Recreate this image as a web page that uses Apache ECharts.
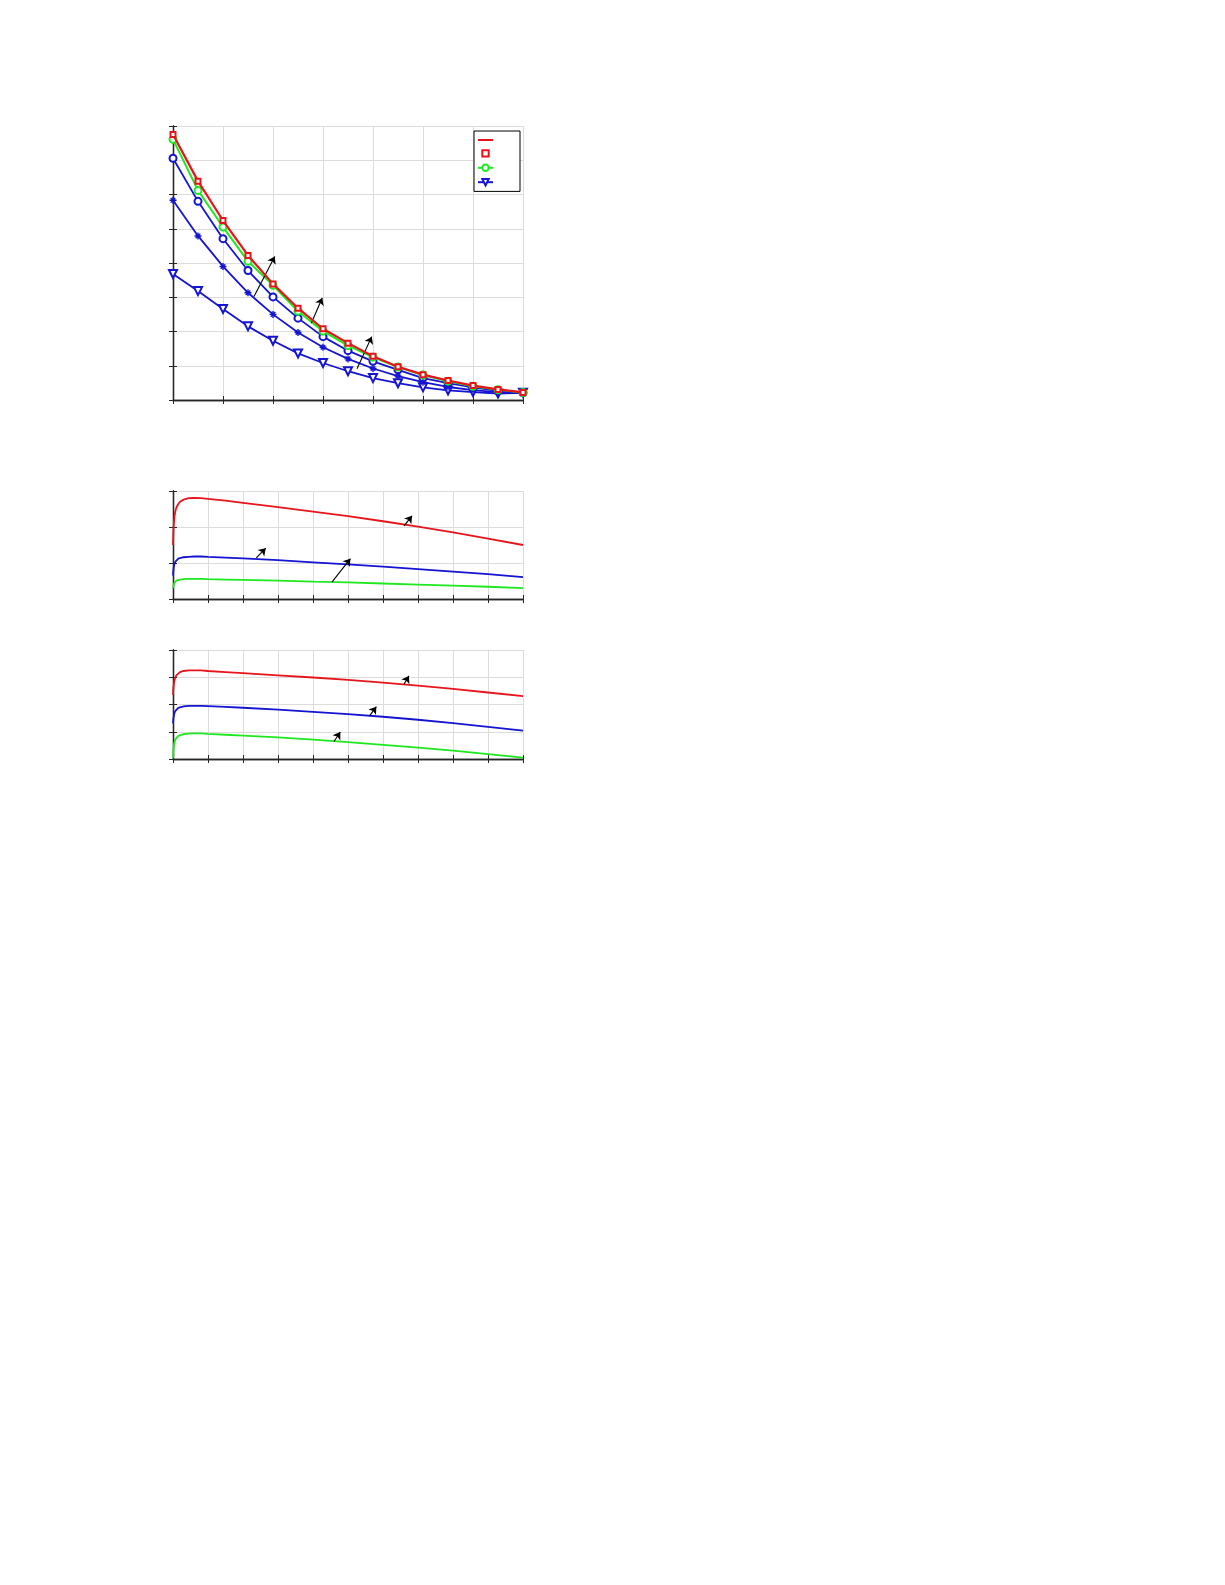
<!DOCTYPE html>
<html>
<head>
<meta charset="utf-8">
<script src="https://cdn.jsdelivr.net/npm/echarts@6/dist/echarts.min.js"></script>
<style>
html,body{margin:0;padding:0;background:#fff;}
#chart{width:1225px;height:1585px;}
</style>
</head>
<body>
<div id="chart"></div>
<script>
// ---------- Top panel data (15 sample points) ----------
var topX = [0,1,2,3,4,5,6,7,8,9,10,11,12,13,14];
var topRedLine    = [7.75,6.39,5.24,4.22,3.39,2.68,2.08,1.66,1.28,0.97,0.74,0.57,0.42,0.31,0.22];
var topRedSquares = [7.75,6.39,5.24,4.22,3.39,2.68,2.08,1.66,1.28,0.97,0.74,0.57,0.42,0.31,0.22];
var topGreen      = [7.61,6.12,5.05,4.05,3.35,2.59,2.01,1.59,1.25,0.96,0.73,0.55,0.40,0.30,0.22];
var topBlueCircle = [7.06,5.80,4.71,3.78,3.01,2.39,1.85,1.44,1.13,0.88,0.64,0.49,0.37,0.27,0.21];
var topBlueStar   = [5.83,4.79,3.90,3.13,2.50,1.97,1.54,1.20,0.92,0.70,0.52,0.38,0.29,0.23,0.21];
var topBlueTri    = [3.68,3.18,2.66,2.15,1.73,1.36,1.08,0.84,0.64,0.49,0.37,0.28,0.23,0.19,0.21];
// arrows [x1,y1,x2,y2] in data units
var topArrows = [[3.24,3.02,4.07,4.19],[5.53,2.24,5.97,2.98],[7.36,0.91,7.95,1.85]];

// ---------- Middle & bottom panel data (continuous curves) ----------
var curveX = [0,0.01,0.02,0.04,0.07,0.1,0.15,0.2,0.3,0.45,0.6,0.8,1,1.5,2,3,4,5,6,7,8,9,10];
var midRed   = [1.50,1.85,2.05,2.28,2.45,2.55,2.64,2.70,2.76,2.80,2.81,2.80,2.78,2.73,2.67,2.55,2.43,2.30,2.16,2.01,1.85,1.68,1.50];
var midBlue  = [0.65,0.78,0.87,0.97,1.04,1.08,1.12,1.14,1.16,1.17,1.18,1.18,1.17,1.15,1.13,1.08,1.02,0.96,0.90,0.83,0.76,0.69,0.61];
var midGreen = [0.30,0.36,0.40,0.45,0.49,0.51,0.53,0.54,0.55,0.56,0.56,0.56,0.55,0.54,0.53,0.51,0.48,0.46,0.43,0.40,0.37,0.34,0.30];
var midArrows = [[6.60,2.03,6.83,2.31],[2.38,1.14,2.65,1.41],[4.54,0.47,5.07,1.12]];

var botRed   = [2.35,2.58,2.72,2.88,3.00,3.08,3.15,3.19,3.23,3.25,3.25,3.25,3.23,3.19,3.15,3.07,2.99,2.90,2.80,2.69,2.57,2.44,2.31];
var botBlue  = [1.31,1.46,1.56,1.68,1.77,1.83,1.88,1.91,1.93,1.95,1.95,1.95,1.94,1.91,1.88,1.81,1.73,1.65,1.55,1.44,1.32,1.18,1.04];
var botGreen = [0.03,0.30,0.45,0.61,0.72,0.79,0.85,0.88,0.91,0.93,0.94,0.94,0.92,0.89,0.86,0.79,0.71,0.62,0.52,0.42,0.31,0.18,0.05];
var botArrows = [[6.60,2.74,6.74,3.05],[5.62,1.59,5.81,1.92],[4.60,0.64,4.78,0.99]];

var RED = '#e8141c', GREEN = '#1ee81e', BLUE = '#1414d2';

function pairs(xs, ys){ return xs.map(function(x,i){ return [x, ys[i]]; }); }
function arrowLines(list){
  return list.map(function(a){ return [{coord:[a[0],a[1]]},{coord:[a[2],a[3]]}]; });
}
function arrowSeries(gi, list){
  return {
    type:'line', xAxisIndex:gi*2, yAxisIndex:gi*2, data:[], silent:true,
    markLine:{
      silent:true, symbol:['none','arrow'], symbolSize:7, animation:false,
      label:{show:false},
      lineStyle:{color:'#000', width:1.1, type:'solid'},
      emphasis:{disabled:true},
      data: arrowLines(list)
    }
  };
}

var grids = [
  {left:173, top:126, width:350, height:274},
  {left:173, top:491, width:350, height:108},
  {left:173, top:650, width:350, height:109}
];
var xRanges = [[0,14,2],[0,10,1],[0,10,1]];
var yRanges = [[0,8,1],[0,3,1],[0,4,1]];

var axisLine = {show:true, lineStyle:{color:'#262626', width:1.3}};
var tick = {show:true, inside:true, length:4, lineStyle:{color:'#262626', width:1}};
var xAxes = [], yAxes = [];
grids.forEach(function(g, i){
  xAxes.push({type:'value', gridIndex:i, min:xRanges[i][0], max:xRanges[i][1], interval:xRanges[i][2],
    position:'bottom', axisLine:axisLine, axisTick:tick, axisLabel:{show:false},
    splitLine:{show:true, lineStyle:{color:'#dcdcdc', width:1}}});
  xAxes.push({type:'value', gridIndex:i, min:xRanges[i][0], max:xRanges[i][1], interval:xRanges[i][2],
    position:'top', axisLine:axisLine, axisTick:tick, axisLabel:{show:false}, splitLine:{show:false}});
  yAxes.push({type:'value', gridIndex:i, min:yRanges[i][0], max:yRanges[i][1], interval:yRanges[i][2],
    position:'left', axisLine:axisLine, axisTick:tick, axisLabel:{show:false},
    splitLine:{show:true, lineStyle:{color:'#dcdcdc', width:1}}});
  yAxes.push({type:'value', gridIndex:i, min:yRanges[i][0], max:yRanges[i][1], interval:yRanges[i][2],
    position:'right', axisLine:axisLine, axisTick:tick, axisLabel:{show:false}, splitLine:{show:false}});
});

var starPath = 'path://M4,0 L6,0 L6,10 L4,10 Z M0,4 L10,4 L10,6 L0,6 Z M1,2.4 L2.4,1 L9,7.6 L7.6,9 Z M7.6,1 L9,2.4 L2.4,9 L1,7.6 Z';

var series = [
  {name:'s1', type:'line', xAxisIndex:0, yAxisIndex:0, data:pairs(topX, topRedLine), showSymbol:false, symbol:'none',
   lineStyle:{color:RED, width:2.2}, itemStyle:{color:RED}, z:5},
  {name:'s2', type:'line', xAxisIndex:0, yAxisIndex:0, data:pairs(topX, topRedSquares), symbol:'emptyRect', symbolSize:5,
   lineStyle:{width:0, opacity:0}, itemStyle:{color:RED, borderColor:RED, borderWidth:1.8}, z:6},
  {name:'s3', type:'line', xAxisIndex:0, yAxisIndex:0, data:pairs(topX, topGreen), symbol:'emptyCircle', symbolSize:7,
   lineStyle:{color:GREEN, width:2}, itemStyle:{color:GREEN, borderColor:GREEN, borderWidth:1.6}, z:4},
  {name:'s4', type:'line', xAxisIndex:0, yAxisIndex:0, data:pairs(topX, topBlueTri), symbol:'emptyTriangle', symbolRotate:180, symbolSize:8,
   lineStyle:{color:BLUE, width:1.8}, itemStyle:{color:BLUE, borderColor:BLUE, borderWidth:2.6}, z:3},
  {name:'s5', type:'line', xAxisIndex:0, yAxisIndex:0, data:pairs(topX, topBlueCircle), symbol:'emptyCircle', symbolSize:7,
   lineStyle:{color:BLUE, width:1.8}, itemStyle:{color:BLUE, borderColor:BLUE, borderWidth:1.6}, z:3},
  {name:'s6', type:'line', xAxisIndex:0, yAxisIndex:0, data:pairs(topX, topBlueStar), symbol:starPath, symbolSize:7,
   lineStyle:{color:BLUE, width:1.8}, itemStyle:{color:BLUE}, z:3},
  arrowSeries(0, topArrows),

  {type:'line', xAxisIndex:2, yAxisIndex:2, data:pairs(curveX, midRed), symbol:'none',
   lineStyle:{color:RED, width:1.8}},
  {type:'line', xAxisIndex:2, yAxisIndex:2, data:pairs(curveX, midBlue), symbol:'none',
   lineStyle:{color:BLUE, width:1.8}},
  {type:'line', xAxisIndex:2, yAxisIndex:2, data:pairs(curveX, midGreen), symbol:'none',
   lineStyle:{color:GREEN, width:1.8}},
  arrowSeries(1, midArrows),

  {type:'line', xAxisIndex:4, yAxisIndex:4, data:pairs(curveX, botRed), symbol:'none',
   lineStyle:{color:RED, width:1.8}},
  {type:'line', xAxisIndex:4, yAxisIndex:4, data:pairs(curveX, botBlue), symbol:'none',
   lineStyle:{color:BLUE, width:1.8}},
  {type:'line', xAxisIndex:4, yAxisIndex:4, data:pairs(curveX, botGreen), symbol:'none',
   lineStyle:{color:GREEN, width:1.8}},
  arrowSeries(2, botArrows)
];

var chart = echarts.init(document.getElementById('chart'), null, {renderer:'canvas'});
chart.setOption({
  animation:false,
  backgroundColor:'#fff',
  grid:grids,
  xAxis:xAxes,
  yAxis:yAxes,
  legend:{
    data:[{name:'s1', itemStyle:{opacity:0}},'s2','s3','s4'],
    orient:'vertical', left:474, top:131,
    itemWidth:15, itemHeight:8, itemGap:6,
    padding:[5,26,5,3],
    backgroundColor:'#fff', borderColor:'#000', borderWidth:1,
    formatter:function(){ return ''; },
    selectedMode:false
  },
  series:series
});
</script>
</body>
</html>
